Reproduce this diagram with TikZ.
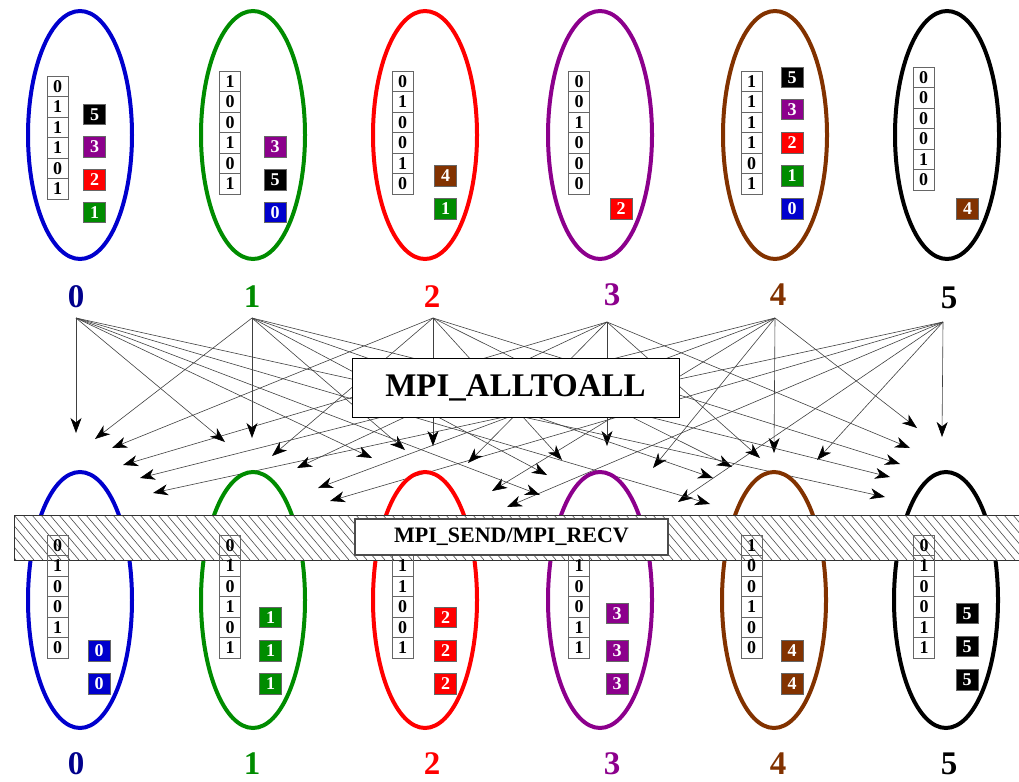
\documentclass[tikz,border=0pt]{standalone}
\usepackage{fontspec}
\setmainfont{Liberation Serif}
\usetikzlibrary{arrows.meta}

\definecolor{pblue}{RGB}{0,0,205}
\definecolor{pnavy}{RGB}{0,0,140}
\definecolor{pgreen}{RGB}{0,140,0}
\definecolor{pred}{RGB}{255,0,0}
\definecolor{ppurple}{RGB}{140,0,140}
\definecolor{pbrown}{RGB}{130,50,0}

\tikzset{
  ring/.style={line width=4pt},
  bitcell/.style={draw=black!60, line width=0.8pt, minimum width=21pt,
    minimum height=20.5pt, inner sep=0pt,
    font=\fontsize{18}{18}\selectfont\bfseries},
  chip/.style={draw=black!60, line width=0.8pt, minimum width=22pt,
    minimum height=20.5pt, inner sep=0pt, text=white,
    font=\fontsize{18}{18}\selectfont\bfseries},
  rank/.style={font=\fontsize{33}{33}\selectfont\bfseries, inner sep=0pt},
  msg/.style={draw=black!75, line width=0.6pt,
    -{Stealth[length=15pt,width=11pt,inset=4.5pt,color=black]}},
  opbox/.style={draw=black, line width=1pt, fill=white, inner sep=0pt},
}

% one column of six bits, named <prefix>-0 ... <prefix>-5
\newcommand\bitcolumn[4]{%
  \foreach \b [count=\i from 0] in {#4} {
    \node[bitcell] (#1-\i) at (#2, #3+10.25+20.5*\i) {\b};
  }}

\begin{document}
\begin{tikzpicture}[x=1pt, y=-1pt]
\useasboundingbox (0,0) rectangle (1019,781);

% ---- source points of the exchange ----
\coordinate (s0) at (76,318);
\coordinate (s1) at (252,318);
\coordinate (s2) at (433,318);
\coordinate (s3) at (607,322);
\coordinate (s4) at (775,318);
\coordinate (s5) at (943,322);

% ---- all-to-all messages: target k from source j ----
\foreach \k/\j/\x/\y in {
  0/0/76/433, 0/1/95/439, 0/2/112/448, 0/3/123/465, 0/4/140/478, 0/5/153/493,
  1/0/225/442, 1/1/252/438, 1/2/272/456, 1/3/297/468, 1/4/318/488, 1/5/330/501,
  2/0/372/458, 2/1/405/450, 2/2/433/446, 2/3/468/463, 2/4/492/491, 2/5/507/507,
  3/0/540/495, 3/1/547/475, 3/2/562/460, 3/3/607/446, 3/4/653/468, 3/5/678/502,
  4/0/710/504, 4/1/713/478, 4/2/732/467, 4/3/760/458, 4/4/774/453, 4/5/817/460,
  5/0/885/497, 5/1/890/477, 5/2/900/464, 5/3/910/448, 5/4/917/428, 5/5/942/437} {
  \coordinate (t\k\j) at (\x,\y);
  \draw[msg] (s\j) -- (t\k\j);
}

\node[opbox, minimum width=327pt, minimum height=59pt,
  font=\fontsize{33}{33}\selectfont\bfseries] (alltoall) at (515.5,387.5) {MPI\_ALLTOALL};

% ---- processes before the exchange ----
\draw[ring, pblue]   (80,135)  ellipse [x radius=52, y radius=124];
\draw[ring, pgreen]  (253,135) ellipse [x radius=52, y radius=124];
\draw[ring, pred]    (425,135) ellipse [x radius=52, y radius=124];
\draw[ring, ppurple] (600,135) ellipse [x radius=52, y radius=124];
\draw[ring, pbrown]  (775,135) ellipse [x radius=52, y radius=124];
\draw[ring, black]   (947,135) ellipse [x radius=52, y radius=124];

\bitcolumn{a0}{57.5}{76}{0,1,1,1,0,1}
\bitcolumn{a1}{230}{71}{1,0,0,1,0,1}
\bitcolumn{a2}{402.5}{71}{0,1,0,0,1,0}
\bitcolumn{a3}{579}{71}{0,0,1,0,0,0}
\bitcolumn{a4}{751.5}{71}{1,1,1,1,0,1}
\bitcolumn{a5}{923.5}{67}{0,0,0,0,1,0}

\node[chip, fill=black]   (a0k5) at (94.5,114.5) {5};
\node[chip, fill=ppurple] (a0k3) at (94.5,147)   {3};
\node[chip, fill=pred]    (a0k2) at (94.5,180)   {2};
\node[chip, fill=pgreen]  (a0k1) at (94.5,212.5) {1};

\node[chip, fill=ppurple] (a1k3) at (275,147)   {3};
\node[chip, fill=black]   (a1k5) at (275,180)   {5};
\node[chip, fill=pblue]   (a1k0) at (275,212.5) {0};

\node[chip, fill=pbrown]  (a2k4) at (445.5,176) {4};
\node[chip, fill=pgreen]  (a2k1) at (445.5,209) {1};

\node[chip, fill=pred]    (a3k2) at (621,209) {2};

\node[chip, fill=black]   (a4k5) at (792,77.5)  {5};
\node[chip, fill=ppurple] (a4k3) at (792,109.5) {3};
\node[chip, fill=pred]    (a4k2) at (792,143)   {2};
\node[chip, fill=pgreen]  (a4k1) at (792,176)   {1};
\node[chip, fill=pblue]   (a4k0) at (792,209)   {0};

\node[chip, fill=pbrown]  (a5k4) at (967.5,209) {4};

\node[rank, text=pnavy]   (ra0) at (76,297)  {0};
\node[rank, text=pgreen]  (ra1) at (252,297) {1};
\node[rank, text=pred]    (ra2) at (432,297) {2};
\node[rank, text=ppurple] (ra3) at (612,295) {3};
\node[rank, text=pbrown]  (ra4) at (778,295) {4};
\node[rank, text=black]   (ra5) at (949,298) {5};

% ---- processes after the exchange ----
\draw[ring, pblue]   (80,600)  ellipse [x radius=52, y radius=128];
\draw[ring, pgreen]  (253,600) ellipse [x radius=52, y radius=128];
\draw[ring, pred]    (425,600) ellipse [x radius=52, y radius=128];
\draw[ring, ppurple] (600,600) ellipse [x radius=52, y radius=128];
\draw[ring, pbrown]  (774,600) ellipse [x radius=52, y radius=128];
\draw[ring, black]   (946,600) ellipse [x radius=52, y radius=128];

% hatched point-to-point band
\fill[white] (14,515) rectangle (1030,560);
\begin{scope}
  \clip (14,515) rectangle (1030,560);
  \foreach \x in {-40,-31,...,1040}
    \draw[black!70, line width=0.6pt] (\x,515) -- (\x+38,560);
\end{scope}
\draw[black!80, line width=1pt] (1030,515) -- (14,515) -- (14,560) -- (1030,560);

\bitcolumn{b0}{57.5}{535}{0,1,0,0,1,0}
\bitcolumn{b1}{230}{535}{0,1,0,1,0,1}
\bitcolumn{b2}{402.5}{535}{{},1,1,0,0,1}
\bitcolumn{b3}{579}{535}{{},1,0,0,1,1}
\bitcolumn{b4}{751.5}{535}{1,0,0,1,0,0}
\bitcolumn{b5}{924}{535}{0,1,0,0,1,1}

\node[chip, fill=pblue]   (b0k0a) at (99,651) {0};
\node[chip, fill=pblue]   (b0k0b) at (99,684) {0};

\node[chip, fill=pgreen]  (b1k1a) at (270.5,617.5) {1};
\node[chip, fill=pgreen]  (b1k1b) at (270.5,651)   {1};
\node[chip, fill=pgreen]  (b1k1c) at (270.5,684)   {1};

\node[chip, fill=pred]    (b2k2a) at (445.5,617.5) {2};
\node[chip, fill=pred]    (b2k2b) at (445.5,651)   {2};
\node[chip, fill=pred]    (b2k2c) at (445.5,684)   {2};

\node[chip, fill=ppurple] (b3k3a) at (617,613.5) {3};
\node[chip, fill=ppurple] (b3k3b) at (617,651)   {3};
\node[chip, fill=ppurple] (b3k3c) at (617,684)   {3};

\node[chip, fill=pbrown]  (b4k4a) at (792,651) {4};
\node[chip, fill=pbrown]  (b4k4b) at (792,684) {4};

\node[chip, fill=black]   (b5k5a) at (967,613.5) {5};
\node[chip, fill=black]   (b5k5b) at (967,646.5) {5};
\node[chip, fill=black]   (b5k5c) at (967,680)   {5};

\node[opbox, draw=black!70, line width=1.2pt, minimum width=313pt, minimum height=36pt,
  font=\fontsize{22}{22}\selectfont\bfseries] (sendrecv) at (511.5,537) {MPI\_SEND/MPI\_RECV};

\node[rank, text=pnavy]   (rb0) at (76,764)  {0};
\node[rank, text=pgreen]  (rb1) at (252,764) {1};
\node[rank, text=pred]    (rb2) at (432,764) {2};
\node[rank, text=ppurple] (rb3) at (612,764) {3};
\node[rank, text=pbrown]  (rb4) at (778,764) {4};
\node[rank, text=black]   (rb5) at (949,764) {5};
\end{tikzpicture}
\end{document}
